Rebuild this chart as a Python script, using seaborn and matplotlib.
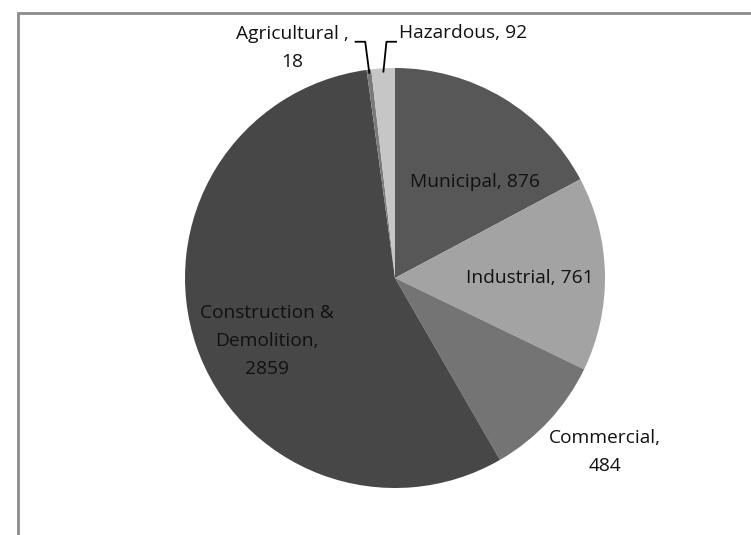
import matplotlib
matplotlib.use("Agg")
import matplotlib.pyplot as plt
import numpy as np
import seaborn as sns
from matplotlib.patches import Rectangle

categories = ["Municipal", "Industrial", "Commercial", "Construction &\nDemolition", "Agricultural", "Hazardous"]
values = [876, 761, 484, 2859, 18, 92]
label_texts = ["Municipal, 876", "Industrial, 761", "Commercial,\n484",
               "Construction &\nDemolition,\n2859", "Agricultural ,\n18", "Hazardous, 92"]

colors = ["#575757", "#a3a3a3", "#747474", "#474747", "#7a7a7a", "#c6c6c6"]

sns.set_theme(style="white")
plt.rcParams["font.family"] = ["Open Sans", "DejaVu Sans"]

W, H = 751, 535
fig = plt.figure(figsize=(W / 100, H / 100), dpi=100)
fig.patch.set_facecolor("white")
ax = fig.add_axes([0, 0, 1, 1])

cx, cy, R = 395, H - 278, 210
wedges, _ = ax.pie(values, colors=colors, startangle=90, counterclock=False,
                   center=(cx, cy), radius=R, wedgeprops=dict(linewidth=0))

# label layout (offsets in units of radius from center)
layout = [(0.38, 0.457, "center"), (0.643, 0.0, "center"), (1.0, -0.83, "center"),
          (-0.61, -0.30, "center"), (-0.49, 1.095, "center"), (0.02, 1.165, "left")]
fs = 13.8
for txt, (dx, dy, ha) in zip(label_texts, layout):
    ax.text(cx + dx * R, cy + dy * R, txt, ha=ha, va="center", fontsize=fs,
            color="#111111", linespacing=1.7)

# leader lines for the tiny slices
for idx, side in zip([4, 5], [-1, 1]):
    w = wedges[idx]
    mid = np.deg2rad((w.theta1 + w.theta2) / 2)
    px, py = cx + 0.98 * R * np.cos(mid), cy + 0.98 * R * np.sin(mid)
    ly = cy + 1.125 * R
    kx = px + (-0.02 if idx == 4 else 0.015) * R
    ex = kx + side * 0.05 * R
    ax.plot([px, kx, ex], [py, ly, ly], color="black", lw=1.3, solid_capstyle="butt")

ax.set_xlim(0, W)
ax.set_ylim(0, H)
ax.set_aspect("equal")
ax.axis("off")

fig.patches.append(Rectangle((18 / W, -0.1), 1.2, 0.1 + 1 - 13 / H, transform=fig.transFigure,
                             fill=False, edgecolor="#8c8c8c", linewidth=2))

fig.savefig("out.png", dpi=100)
